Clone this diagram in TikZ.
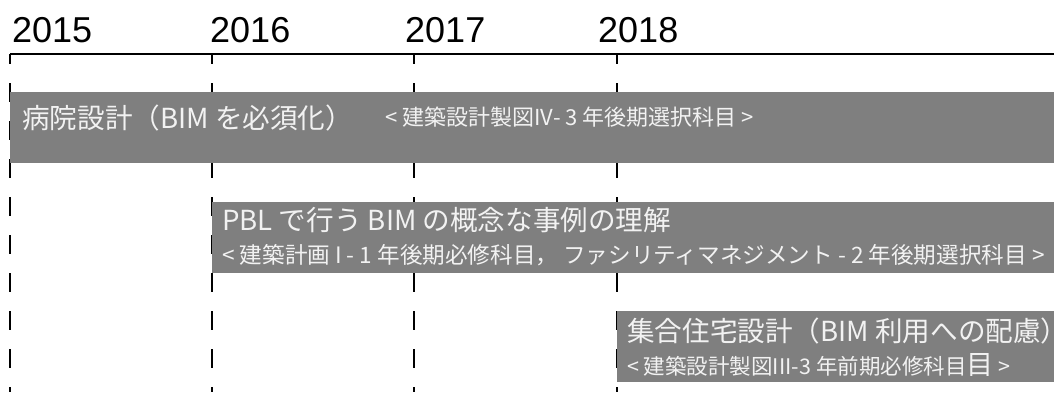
\documentclass[tikz,border=0pt]{standalone}
\usepackage{fontspec}
\newfontfamily\jp{Noto Sans CJK JP}
\newfontfamily\yr{Liberation Sans}
\definecolor{bargray}{HTML}{7F7F7F}
\definecolor{bartext}{HTML}{F2F2F2}
\begin{document}
\begin{tikzpicture}[x=1pt,y=-1pt,
  yearlabel/.style={anchor=base west,inner sep=0pt,font=\yr\fontsize{36}{36}\selectfont},
  guide/.style={line width=2pt,dash pattern=on 19pt off 19pt,dash phase=9pt},
  barbox/.style={anchor=north west,fill=bargray,draw=none,inner sep=0pt,minimum height=71pt},
  maintext/.style={anchor=base west,inner sep=0pt,text=bartext,font=\jp\fontsize{27.6}{27.6}\selectfont},
  subtext/.style={anchor=base west,inner sep=0pt,text=bartext,font=\jp\fontsize{22}{22}\selectfont}]
\useasboundingbox (0,0) rectangle (1054,392);
\clip (0,0) rectangle (1054,392);
% years
\node[yearlabel] (y2015) at (12,42) {2015};
\node[yearlabel] (y2016) at (210,42) {2016};
\node[yearlabel] (y2017) at (405,42) {2017};
\node[yearlabel] (y2018) at (598,42) {2018};
% axis
\coordinate (t2015) at (10,54);
\coordinate (t2016) at (212,54);
\coordinate (t2017) at (414,54);
\coordinate (t2018) at (617,54);
\coordinate (axisend) at (1054,54);
\coordinate (bottom) at (0,392);
\draw[line width=1.6pt] (t2015) -- (axisend);
\foreach \t in {t2015,t2016,t2017,t2018}
  \draw[guide] (\t) -- (\t |- bottom);
% bars
\node[barbox,minimum width=1044pt] (bar1) at (10,92) {};
\node[barbox,minimum width=842pt] (bar2) at (212,202) {};
\node[barbox,minimum width=437pt] (bar3) at (617,311) {};
% texts
\node[maintext] (m1) at (22,128) {病院設計（BIM を必須化）};
\node[subtext] (s1) at (385,125) {< 建築設計製図IV- 3 年後期選択科目 >};
\node[maintext] (m2) at (222,230) {PBL で行う BIM の概念な事例の理解};
\node[subtext,font=\jp\fontsize{22.6}{22.6}\selectfont] (s2) at (222,263) {< 建築計画 I - 1 年後期必修科目， ファシリティマネジメント - 2 年後期選択科目 >};
\node[maintext] (m3) at (627,341) {集合住宅設計（BIM 利用への配慮）};
\node[subtext,font=\jp\fontsize{21.5}{21.5}\selectfont] (s3) at (627,374) {< 建築設計製図III-3 年前期必修科目{\fontsize{27}{27}\selectfont 目} >};
\end{tikzpicture}
\end{document}
